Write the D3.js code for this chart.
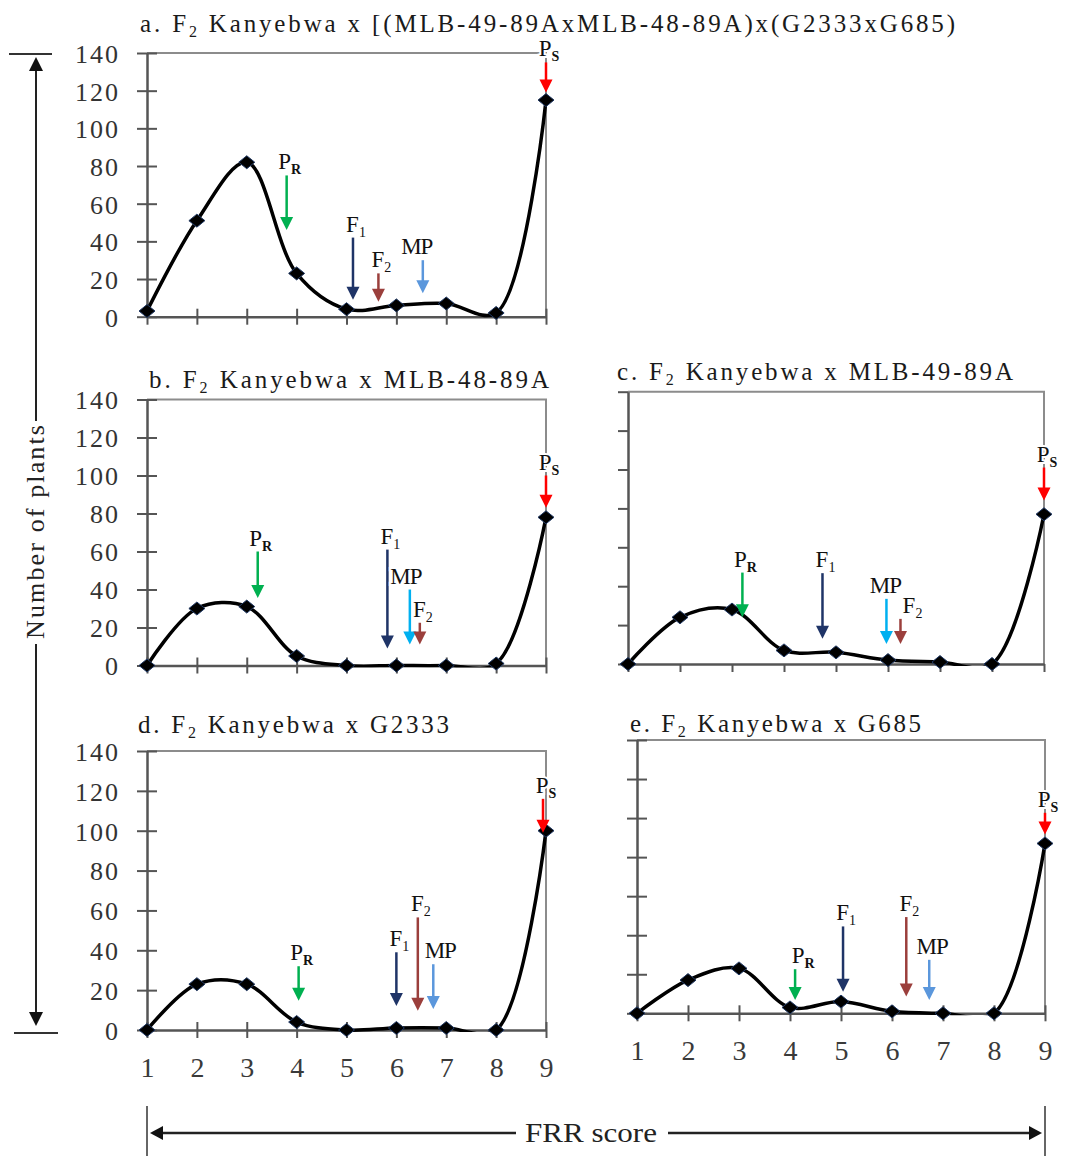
<!DOCTYPE html>
<html>
<head>
<meta charset="utf-8">
<script src="https://cdn.jsdelivr.net/npm/d3@7"></script>
<style>
  body { margin: 0; background: #fff; }
  svg, svg text { font-family: "Liberation Serif", "Times New Roman", Times, "DejaVu Serif", serif !important; }
</style>
</head>
<body>
<div id="chart"></div>
<script>
var svgWidth = 1067;
var svgHeight = 1156;
var serif = "'Liberation Serif', 'Times New Roman', Times, 'DejaVu Serif', serif";

// FRR score categories and y ticks
var scores = [1, 2, 3, 4, 5, 6, 7, 8, 9];
var yTicks = [0, 20, 40, 60, 80, 100, 120, 140];

// number of plants per FRR score
var plantsA = [3, 51, 82, 23, 4, 6, 7, 2, 115];
var plantsB = [0, 30, 31, 5, 0, 0, 0, 1, 78];
var plantsC = [0, 24, 28, 7, 6, 2, 1, 0, 77];
var plantsD = [0, 23, 23, 4, 0, 1, 1, 0, 100];
var plantsE = [0, 17, 23, 3, 6, 1, 0, 0, 87];

// mean markers: [label, FRR score, arrow start, arrow tip] (plants units)
var marksA = [["PR", 3.8, 75, 46], ["F1", 5.13, 42, 9], ["F2", 5.64, 23, 8], ["MP", 6.53, 30, 12.5], ["PS", 9, 135, 119]];
var marksB = [["PR", 3.22, 60, 35.5], ["F1", 5.82, 61, 9], ["MP", 6.27, 40, 11], ["F2", 6.47, 22.5, 11], ["PS", 9, 100, 83]];
var marksC = [["PR", 3.2, 47, 24], ["F1", 4.74, 46.7, 13], ["MP", 5.97, 33.5, 10.3], ["F2", 6.24, 23.2, 10.3], ["PS", 9, 101, 84]];
var marksD = [["PR", 4.04, 32, 14.7], ["F1", 6.0, 39, 12], ["F2", 6.43, 56.5, 9.7], ["MP", 6.74, 33, 10.5], ["PS", 8.94, 116, 99]];
var marksE = [["PR", 4.1, 22.6, 6.8], ["F1", 5.04, 44.5, 11], ["F2", 6.28, 49.3, 8.6], ["MP", 6.73, 27.4, 6.8], ["PS", 9, 102.7, 91.6]];

// titles
var titleLetters = ["a.", "b.", "c.", "d.", "e."];
var titleCrosses = ["[(MLB-49-89AxMLB-48-89A)x(G2333xG685)", "MLB-48-89A", "MLB-49-89A", "G2333", "G685"];

var markColor = { PR: "#00b050", F1: "#1f3467", F2: "#9b3f3c", PS: "#ff0000" };

// panel placement (nudge = horizontal shift of a label, px)
var layout = [
  { data: plantsA, marks: marksA, mp: "#5b97dc", left: 147, right: 546, bottom: 316.7, top: 53, yLab: true, xLab: false, tick: "cross", title: [140, 32, 815], nudge: { MP: -9 } },
  { data: plantsB, marks: marksB, mp: "#00b0f0", left: 147, right: 546, bottom: 665.5, top: 399.5, yLab: true, xLab: false, tick: "cross", title: [149, 388, 400], nudge: { MP: -7 } },
  { data: plantsC, marks: marksC, mp: "#00b0f0", left: 628, right: 1044, bottom: 664, top: 391.7, yLab: false, xLab: false, tick: "out", title: [617, 380, 396], nudge: { MP: -4, F2: 9 } },
  { data: plantsD, marks: marksD, mp: "#5b97dc", left: 147, right: 546, bottom: 1030, top: 751, yLab: true, xLab: true, tick: "cross", title: [138, 733, 311], nudge: { MP: 4 } },
  { data: plantsE, marks: marksE, mp: "#5b97dc", left: 637, right: 1045, bottom: 1013.3, top: 740, yLab: false, xLab: true, tick: "cross", title: [630, 732, 291], nudge: { PR: 5 } }
];

var svg = d3.select("#chart")
  .append("svg")
  .attr("width", svgWidth)
  .attr("height", svgHeight)
  .style("font-family", serif);

var defs = svg.append("defs");

layout.forEach(function(p, i) {
  var x = d3.scaleLinear().domain([1, 9]).range([p.left, p.right]);
  var y = d3.scaleLinear().domain([0, 140]).range([p.bottom, p.top]);
  var g = svg.append("g");

  // title
  var t = g.append("text")
    .attr("x", p.title[0])
    .attr("y", p.title[1])
    .attr("font-size", 25)
    .attr("fill", "#1a1a1a")
    .attr("textLength", p.title[2])
    .attr("lengthAdjust", "spacing");
  t.append("tspan").text(titleLetters[i] + " F");
  t.append("tspan").attr("font-size", 16).attr("dy", 5).text("2");
  t.append("tspan").attr("dy", -5).text(" Kanyebwa x " + titleCrosses[i]);

  // gray frame (top and right)
  g.append("path")
    .attr("d", "M" + x(1) + "," + y(140) + "H" + x(9) + "V" + y(0))
    .attr("fill", "none")
    .attr("stroke", "#8c8c8c")
    .attr("stroke-width", 2);

  // y axis
  var yAxis = d3.axisLeft(y).tickValues(yTicks).tickSize(10).tickSizeOuter(0).tickPadding(17)
    .tickFormat(p.yLab ? d3.format("d") : "");
  var ya = g.append("g").attr("transform", "translate(" + x(1) + ",0)").call(yAxis);
  ya.attr("font-family", serif);
  ya.select(".domain").attr("stroke", "#555").attr("stroke-width", 2.5);
  ya.selectAll(".tick line").attr("stroke", "#555").attr("stroke-width", 2)
    .attr("x1", p.tick === "cross" ? 10 : 0);
  ya.selectAll(".tick text")
    .attr("font-size", 26)
    .attr("letter-spacing", 2)
    .attr("fill", "#333")
    .attr("dy", "0.36em");

  // x axis
  var xAxis = d3.axisBottom(x).tickValues(scores).tickSize(8).tickSizeOuter(0).tickPadding(19)
    .tickFormat(p.xLab ? d3.format("d") : "");
  var xa = g.append("g").attr("transform", "translate(0," + y(0) + ")").call(xAxis);
  xa.attr("font-family", serif);
  xa.select(".domain").attr("stroke", "#555").attr("stroke-width", 2.5);
  xa.selectAll(".tick line").attr("stroke", "#555").attr("stroke-width", 2)
    .attr("y1", p.tick === "cross" ? -8 : 0);
  xa.selectAll(".tick text")
    .attr("font-size", 28)
    .attr("fill", "#3a3a3a");

  // smoothed line, clipped just below the zero line
  defs.append("clipPath").attr("id", "clip" + i)
    .append("rect")
    .attr("x", x(1) - 20).attr("y", y(140) - 20)
    .attr("width", x(9) - x(1) + 40).attr("height", y(0) - y(140) + 22);

  var line = d3.line()
    .x(function(d, k) { return x(scores[k]); })
    .y(function(d) { return y(d); })
    .curve(d3.curveCatmullRom.alpha(0.5));

  g.append("path")
    .datum(p.data)
    .attr("clip-path", "url(#clip" + i + ")")
    .attr("d", line)
    .attr("fill", "none")
    .attr("stroke", "#000")
    .attr("stroke-width", 3.5);

  // diamond markers
  g.selectAll(".pt")
    .data(p.data)
    .enter()
    .append("path")
    .attr("class", "pt")
    .attr("d", "M0,-6.5L8,0L0,6.5L-8,0Z")
    .attr("transform", function(d, k) { return "translate(" + x(scores[k]) + "," + y(d) + ")"; })
    .attr("fill", "#000")
    .attr("stroke", "#1f3864")
    .attr("stroke-width", 1);

  // mean arrows
  p.marks.forEach(function(m) {
    var col = m[0] === "MP" ? p.mp : markColor[m[0]];
    var ax = x(m[1]);
    var y1 = y(m[2]);
    var y2 = y(m[3]);
    g.append("line")
      .attr("x1", ax).attr("x2", ax)
      .attr("y1", y1).attr("y2", y2 - 10)
      .attr("stroke", col)
      .attr("stroke-width", 2.5);
    g.append("path")
      .attr("d", "M" + (ax - 6.5) + "," + (y2 - 13) + "L" + (ax + 6.5) + "," + (y2 - 13) + "L" + ax + "," + y2 + "Z")
      .attr("fill", col);

    var lab = g.append("text")
      .attr("x", ax + 3 + (p.nudge[m[0]] || 0))
      .attr("y", y1 - 6)
      .attr("text-anchor", "middle")
      .attr("font-size", 23)
      .attr("fill", "#111")
      .attr("stroke", "#fff")
      .attr("stroke-width", 4)
      .attr("paint-order", "stroke");
    if (m[0] === "MP") {
      lab.attr("letter-spacing", -1).text("MP");
    } else {
      lab.append("tspan").text(m[0].charAt(0));
      lab.append("tspan")
        .attr("dy", 5)
        .attr("font-size", 14)
        .attr("font-weight", m[0].charAt(0) === "P" ? "bold" : "normal")
        .text(m[0].charAt(1));
    }
  });
});

// y axis title with arrows
var yt = svg.append("g");
yt.append("line").attr("x1", 9).attr("x2", 52).attr("y1", 54).attr("y2", 54).attr("stroke", "#333").attr("stroke-width", 2);
yt.append("line").attr("x1", 14).attr("x2", 58).attr("y1", 1033).attr("y2", 1033).attr("stroke", "#333").attr("stroke-width", 2);
yt.append("line").attr("x1", 36).attr("x2", 36).attr("y1", 68).attr("y2", 421).attr("stroke", "#222").attr("stroke-width", 2);
yt.append("line").attr("x1", 36).attr("x2", 36).attr("y1", 644).attr("y2", 1014).attr("stroke", "#222").attr("stroke-width", 2);
yt.append("path").attr("d", "M29,71L43,71L36,57Z").attr("fill", "#111");
yt.append("path").attr("d", "M29,1012L43,1012L36,1026Z").attr("fill", "#111");
yt.append("text")
  .attr("transform", "translate(44,532) rotate(-90)")
  .attr("text-anchor", "middle")
  .attr("font-size", 26)
  .attr("fill", "#222")
  .attr("textLength", 214)
  .attr("lengthAdjust", "spacing")
  .text("Number of plants");

// x axis title with arrows
var xt = svg.append("g");
xt.append("line").attr("x1", 147).attr("x2", 147).attr("y1", 1106).attr("y2", 1156).attr("stroke", "#333").attr("stroke-width", 1.5);
xt.append("line").attr("x1", 1045).attr("x2", 1045).attr("y1", 1106).attr("y2", 1156).attr("stroke", "#333").attr("stroke-width", 1.5);
xt.append("line").attr("x1", 160).attr("x2", 516).attr("y1", 1133).attr("y2", 1133).attr("stroke", "#222").attr("stroke-width", 2.5);
xt.append("line").attr("x1", 668).attr("x2", 1030).attr("y1", 1133).attr("y2", 1133).attr("stroke", "#222").attr("stroke-width", 2.5);
xt.append("path").attr("d", "M163,1126L163,1140L150,1133Z").attr("fill", "#111");
xt.append("path").attr("d", "M1029,1126L1029,1140L1042,1133Z").attr("fill", "#111");
xt.append("text")
  .attr("x", 591)
  .attr("y", 1142)
  .attr("text-anchor", "middle")
  .attr("font-size", 27)
  .attr("fill", "#222")
  .attr("textLength", 132)
  .attr("lengthAdjust", "spacingAndGlyphs")
  .text("FRR score");
</script>
</body>
</html>
